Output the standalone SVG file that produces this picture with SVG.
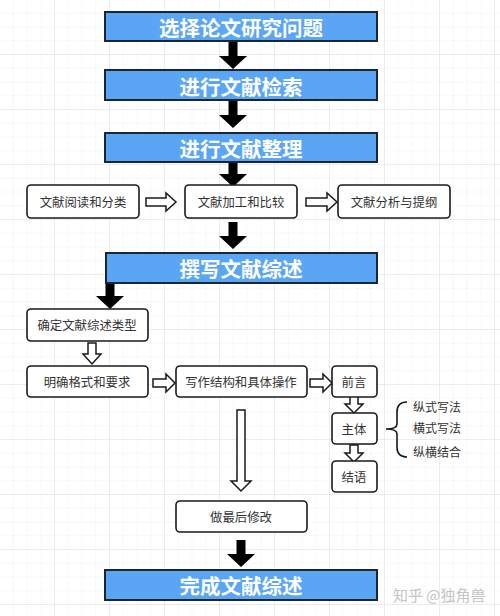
<svg xmlns="http://www.w3.org/2000/svg" width="500" height="616" viewBox="0 0 500 616">
<defs>
<pattern id="minor" width="13.75" height="13.75" patternUnits="userSpaceOnUse">
<path d="M13.75 0V13.75H0" fill="none" stroke="#ececec" stroke-width="0.8"/>
</pattern>
<pattern id="major" width="55" height="55" patternUnits="userSpaceOnUse">
<path d="M55 0V55H0" fill="none" stroke="#dcdcdc" stroke-width="0.9"/>
</pattern>
<path id="barrow" d="M-4.5 0H4.5V14H14L0 27L-14 14H-4.5Z"/>
</defs>
<style>
.title{fill:#5aa6f4;stroke:#1b2633;stroke-width:2}
.tt{font-family:"Noto Sans CJK SC","Liberation Sans",sans-serif;font-size:20.5px;font-weight:bold;fill:#fff;text-anchor:middle;dominant-baseline:central}
.box{fill:#fff;stroke:#1a1a1a;stroke-width:1.6}
.bt{font-family:"Noto Sans CJK SC","Liberation Sans",sans-serif;font-size:12.4px;fill:#333;text-anchor:middle;dominant-baseline:central}
.lt{font-family:"Noto Sans CJK SC","Liberation Sans",sans-serif;font-size:12px;fill:#333;dominant-baseline:central}
.hollow{fill:#fff;stroke:#1a1a1a;stroke-width:1.5;stroke-linejoin:miter}
.solid{fill:#000}
.wm{font-family:"Noto Sans CJK SC","Liberation Sans",sans-serif;font-size:15px;fill:#c4c4c4;dominant-baseline:central}
</style>
<rect width="500" height="616" fill="#fff"/>
<rect width="500" height="616" fill="url(#minor)"/>
<rect width="500" height="616" fill="url(#major)"/>

<g id="connectors">
<use href="#barrow" x="233" y="42" class="solid"/>
<use href="#barrow" x="233" y="101" class="solid"/>
<use href="#barrow" x="233" y="160" class="solid"/>
<use href="#barrow" x="233" y="222" class="solid"/>
<use href="#barrow" x="110" y="282" class="solid"/>
<use href="#barrow" x="241" y="540" class="solid"/>
<path class="hollow" d="M146 198H166V193L176 202L166 211V206H146Z"/>
<path class="hollow" d="M306 198H327V193L337 202L327 211V206H306Z"/>
<path class="hollow" d="M88 343V354H83L92 364L101 354H96V343Z"/>
<path class="hollow" d="M153 379H166V374L175 383L166 392V387H153Z"/>
<path class="hollow" d="M310 379H323V374L332 383L323 392V387H310Z"/>
<path class="hollow" d="M350 395V404H345L354 413L363 404H358V395Z"/>
<path class="hollow" d="M350 445V453H345L354 462L363 453H358V445Z"/>
<path class="hollow" d="M237 410V481H231L241 491L251 481H245V410Z"/>
<path d="M407 402Q397 402 397 412V424Q397 429 386 429Q397 429 397 434V447Q397 457 407 457" fill="none" stroke="#1a1a1a" stroke-width="1.6"/>
</g>

<g id="n1"><rect class="title" x="105" y="12" width="272" height="29"/><text class="tt" x="241" y="27">选择论文研究问题</text></g>
<g id="n2"><rect class="title" x="105" y="70" width="272" height="30"/><text class="tt" x="241" y="86">进行文献检索</text></g>
<g id="n3"><rect class="title" x="105" y="133" width="272" height="29"/><text class="tt" x="241" y="148">进行文献整理</text></g>
<g id="n4"><rect class="box" x="27" y="185" width="112" height="33" rx="4"/><text class="bt" x="83" y="202">文献阅读和分类</text></g>
<g id="n5"><rect class="box" x="185" y="185" width="112" height="33" rx="4"/><text class="bt" x="241" y="202">文献加工和比较</text></g>
<g id="n6"><rect class="box" x="338" y="185" width="112" height="33" rx="4"/><text class="bt" x="394" y="202">文献分析与提纲</text></g>
<g id="n7"><rect class="title" x="106" y="253" width="271" height="30"/><text class="tt" x="241" y="268">撰写文献综述</text></g>
<g id="n8"><rect class="box" x="27" y="309" width="121" height="32" rx="4"/><text class="bt" x="87" y="325">确定文献综述类型</text></g>
<g id="n9"><rect class="box" x="27" y="366" width="121" height="31" rx="4"/><text class="bt" x="87" y="382">明确格式和要求</text></g>
<g id="n10"><rect class="box" x="176" y="366" width="131" height="31" rx="4"/><text class="bt" x="241" y="382">写作结构和具体操作</text></g>
<g id="n11"><rect class="box" x="332" y="366" width="45" height="31" rx="4"/><text class="bt" x="354" y="382">前言</text></g>
<g id="n12"><rect class="box" x="332" y="413" width="45" height="31" rx="4"/><text class="bt" x="354" y="429">主体</text></g>
<g id="n13"><rect class="box" x="332" y="461" width="45" height="31" rx="4"/><text class="bt" x="354" y="477">结语</text></g>
<g id="n14">
<text class="lt" x="413" y="406">纵式写法</text>
<text class="lt" x="413" y="427">横式写法</text>
<text class="lt" x="413" y="451">纵横结合</text>
</g>
<g id="n15"><rect class="box" x="176" y="501" width="131" height="31" rx="4"/><text class="bt" x="241" y="517">做最后修改</text></g>
<g id="n16"><rect class="title" x="105" y="570" width="272" height="30"/><text class="tt" x="241" y="585">完成文献综述</text></g>
<text class="wm" x="393" y="594">知乎 @独角兽</text>
</svg>
